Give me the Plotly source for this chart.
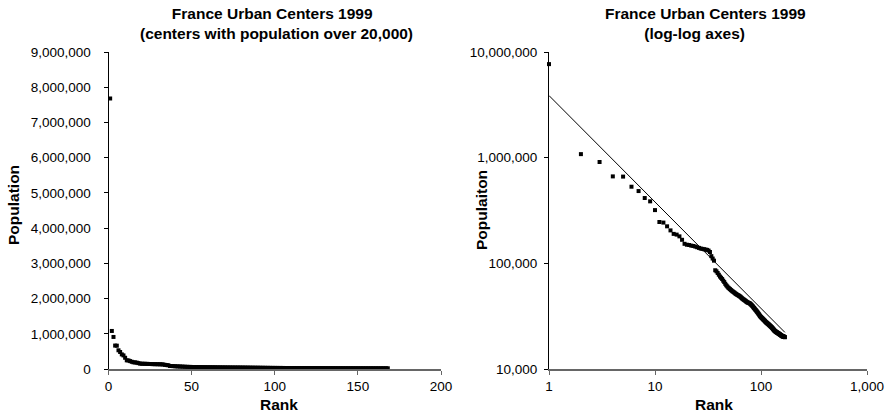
import numpy as np
import plotly.graph_objects as go

# ---------------- data ----------------
RANKS = list(range(1, 169))
POPULATION = [
    7680000, 1080000, 910000, 665000, 662000, 531000, 483000, 415000, 386000, 319000,
    246000, 243000, 224000, 205000, 190000, 187000, 180000, 167000, 153000, 150000,
    149000, 147000, 146000, 144000, 142000, 140000, 138000, 137000, 136000, 135000,
    134000, 132000, 128000, 117000, 111000, 106000, 86000, 84000, 81000, 78000,
    75000, 73000, 71000, 68500, 66500, 64000, 62000, 60500, 59000, 58000,
    57000, 56000, 55000, 54300, 53500, 52800, 52000, 51400, 50800, 50200,
    49800, 49300, 48800, 48200, 47500, 46800, 46200, 45700, 45200, 44800,
    44300, 43800, 43300, 42900, 42600, 42300, 42100, 41900, 41500, 41000,
    40500, 40000, 39400, 38900, 38300, 37800, 37200, 36700, 36200, 35700,
    35200, 34700, 34200, 33700, 33200, 32700, 32200, 31700, 31300, 31000,
    30700, 30400, 30100, 29800, 29500, 29200, 28900, 28700, 28400, 28100,
    27800, 27600, 27400, 27200, 27000, 26800, 26600, 26400, 26200, 26000,
    25800, 25600, 25400, 25200, 25000, 24800, 24600, 24400, 24200, 23900,
    23700, 23500, 23300, 23100, 22900, 22800, 22700, 22500, 22400, 22300,
    22200, 22100, 22000, 21900, 21800, 21700, 21600, 21500, 21400, 21300,
    21200, 21100, 21000, 20900, 20800, 20700, 20600, 20500, 20450, 20400,
    20350, 20300, 20250, 20200, 20150, 20100, 20050, 20000,
]

# power trendline shown on the log-log chart: y = A * x^B
TREND_A = 3870000
TREND_B = -1.007

LEFT_TITLE = ["France Urban Centers 1999", "(centers with population over 20,000)"]
RIGHT_TITLE = ["France Urban Centers 1999", "(log-log axes)"]
X_TITLE = "Rank"
LEFT_Y_TITLE = "Population"
RIGHT_Y_TITLE = "Populaiton"

LOG_X_TICKS = [1, 10, 100, 1000]
LOG_X_TEXT = ["1", "10", "100", "1,000"]
LOG_Y_TICKS = [10000, 100000, 1000000, 10000000]
LOG_Y_TEXT = ["10,000", "100,000", "1,000,000", "10,000,000"]

trend_x = [RANKS[0], RANKS[-1]]
trend_y = [TREND_A * v ** TREND_B for v in trend_x]

# ---------------- figure ----------------
W, H = 896, 416
FONT = "Liberation Sans, Arial, Helvetica, sans-serif"


def px(x):
    return x / W


def py(y):
    return 1 - y / H


marker = dict(symbol="square", size=4, color="black", line=dict(width=0))

fig = go.Figure()
fig.add_trace(go.Scatter(x=RANKS, y=POPULATION, mode="markers", marker=marker,
                         xaxis="x", yaxis="y", cliponaxis=False, hoverinfo="x+y"))
fig.add_trace(go.Scatter(x=RANKS, y=POPULATION, mode="markers", marker=marker,
                         xaxis="x2", yaxis="y2", cliponaxis=False, hoverinfo="x+y"))
fig.add_trace(go.Scatter(x=trend_x, y=trend_y, mode="lines",
                         line=dict(color="black", width=1),
                         xaxis="x2", yaxis="y2", hoverinfo="skip"))

tickfont = dict(family=FONT, size=13.5, color="black")
common = dict(showgrid=False, zeroline=False, showline=True, ticks="outside",
              ticklen=4, tickfont=tickfont, automargin=False)

fig.update_layout(
    template="none",
    width=W, height=H,
    margin=dict(l=0, r=0, t=0, b=0, pad=0, autoexpand=False),
    paper_bgcolor="white", plot_bgcolor="white",
    showlegend=False,
    font=dict(family=FONT, color="black"),
    xaxis=dict(domain=[px(108.5), px(441)], range=[0, 200], dtick=50,
               linecolor="#666666", linewidth=1.5, tickcolor="#666666",
               anchor="y", **common),
    yaxis=dict(domain=[py(369), py(52)], range=[0, 9000000], dtick=1000000,
               tickformat=",d", linecolor="black", linewidth=1, tickcolor="black",
               ticklabelstandoff=10, anchor="x", **common),
    xaxis2=dict(domain=[px(549), px(867)], type="log", range=[0, 3],
                tickvals=LOG_X_TICKS, ticktext=LOG_X_TEXT,
                linecolor="#666666", linewidth=1.5, tickcolor="#666666",
                anchor="y2", **common),
    yaxis2=dict(domain=[py(369), py(52)], type="log", range=[4, 7],
                tickvals=LOG_Y_TICKS, ticktext=LOG_Y_TEXT,
                linecolor="black", linewidth=1, tickcolor="black",
                ticklabelstandoff=4, anchor="x2", **common),
)

bold = dict(family=FONT, size=15.5, color="black")
NB = "&nbsp;"
ann = []
ann.append(dict(text="<b>%s%s<br>%s</b>" % (LEFT_TITLE[0], NB * 2, LEFT_TITLE[1]),
                x=px(276.5), y=py(23)))
ann.append(dict(text="<b>%s<br>%s%s</b>" % (RIGHT_TITLE[0], RIGHT_TITLE[1], NB * 5),
                x=px(705.4), y=py(23)))
ann.append(dict(text="<b>%s</b>" % X_TITLE, x=px(279), y=py(404)))
ann.append(dict(text="<b>%s</b>" % X_TITLE, x=px(714), y=py(404)))
ann.append(dict(text="<b>%s</b>" % LEFT_Y_TITLE, x=px(13), y=py(205), textangle=-90))
ann.append(dict(text="<b>%s</b>" % RIGHT_Y_TITLE, x=px(481), y=py(210), textangle=-90))
for a in ann:
    a.update(xref="paper", yref="paper", showarrow=False, font=bold,
             xanchor="center", yanchor="middle", align="center")
fig.update_layout(annotations=ann)

fig.write_html("out.html")
